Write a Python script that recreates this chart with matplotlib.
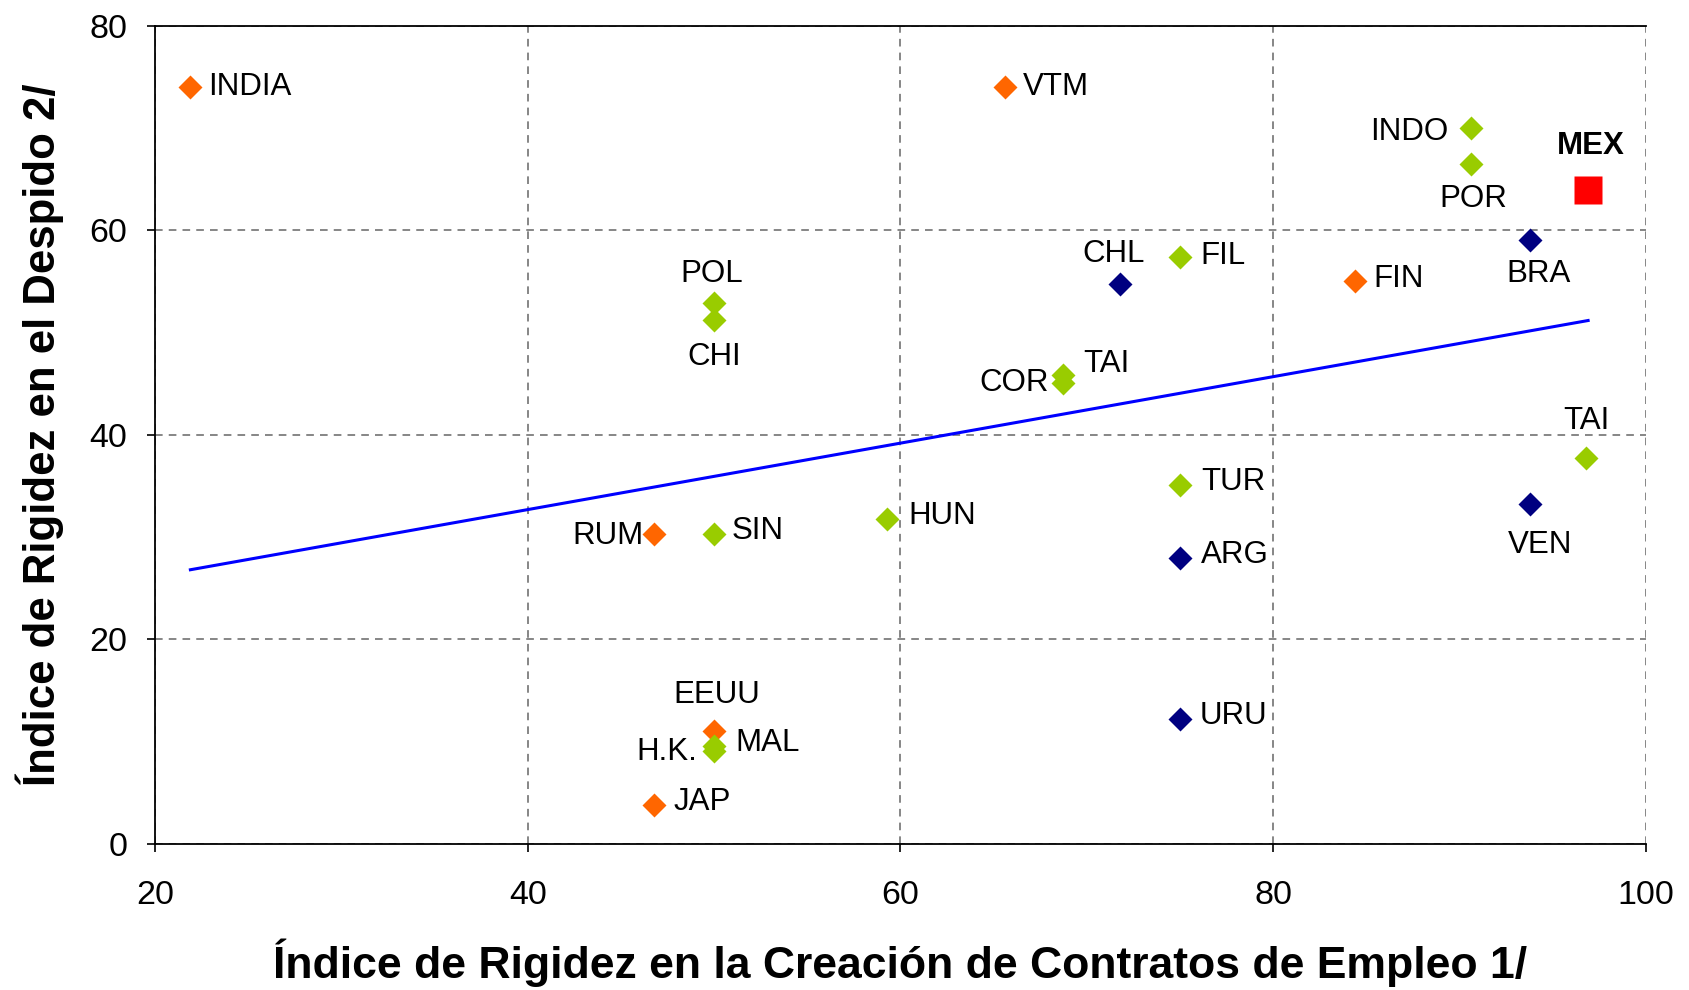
import numpy as np
import matplotlib.pyplot as plt

plt.rcParams['font.family'] = ['Liberation Sans', 'DejaVu Sans']

# countries: rigidity in hiring (x) vs rigidity in firing (y)
names  = ["INDIA", "VTM", "INDO", "POR", "BRA", "CHL", "FIL", "FIN", "POL", "CHI",
          "TAI", "COR", "TAI", "VEN", "TUR", "ARG", "URU", "HUN", "SIN", "RUM",
          "EEUU", "MAL", "H.K.", "JAP"]
x_hire = [21.9, 65.6, 90.6, 90.6, 93.8, 71.8, 75.0, 84.4, 50.0, 50.0,
          68.7, 68.7, 96.8, 93.8, 75.0, 75.0, 75.0, 59.3, 50.0, 46.8,
          50.0, 50.0, 50.0, 46.8]
y_fire = [74.0, 74.0, 70.0, 66.5, 59.1, 54.8, 57.4, 55.1, 52.9, 51.2,
          45.9, 45.1, 37.7, 33.2, 35.1, 28.0, 12.2, 31.8, 30.3, 30.3,
          11.0, 9.6, 9.1, 3.8]
group  = ["o", "o", "g", "g", "n", "n", "g", "o", "g", "g",
          "g", "g", "g", "n", "g", "n", "n", "g", "g", "o",
          "o", "g", "g", "o"]

mex_x, mex_y = 96.9, 64.0

# fitted trend line
trend_slope, trend_icpt = 0.325, 19.7

colors = {"o": "#FF6600", "g": "#99CC00", "n": "#000080"}

# label offsets in points (dx, dy, ha)
R, L = 13, -10
offsets = [(R, 0, "left"), (R, 0, "left"), (-16, -3, "right"), (2, -25, "center"),
           (6, -25, "center"), (-5, 21, "center"), (15, 1, "left"), (R, 1, "left"),
           (-2, 21, "center"), (0, -26, "center"), (15, 8, "left"), (L, 0, "right"),
           (0, 27, "center"), (7, -29, "center"), (15, 2, "left"), (15, 2, "left"),
           (14, 2, "left"), (15, 2, "left"), (13, 2, "left"), (-8, -1, "right"),
           (2, 26, "center"), (15, 2, "left"), (-12, -1, "right"), (14, 2, "left")]

fig = plt.figure(figsize=(16.9, 9.9), dpi=100)
ax = fig.add_axes([0.0917, 0.1475, 0.8822, 0.8263])

for xi, yi, g in zip(x_hire, y_fire, group):
    ax.plot(xi, yi, "D", color=colors[g], ms=12, mec="none", zorder=4)
ax.plot(mex_x, mex_y, "s", color="#FF0000", ms=20, mec="none", zorder=4)

xs = np.array([min(x_hire), max(x_hire + [mex_x])])
ax.plot(xs, trend_slope * xs + trend_icpt, color="#0000FF", lw=2.2, zorder=3)

for n, xi, yi, (dx, dy, ha) in zip(names, x_hire, y_fire, offsets):
    ax.annotate(n, (xi, yi), textcoords="offset points", xytext=(dx, dy),
                ha=ha, va="center", fontsize=22.5, zorder=5)
ax.annotate("MEX", (mex_x, mex_y), textcoords="offset points", xytext=(2, 31),
            ha="center", va="center", fontsize=22.5, fontweight="bold", zorder=5)

ax.set_xlim(20, 100)
ax.set_ylim(0, 80)
ax.set_xticks([20, 40, 60, 80, 100])
ax.set_yticks([0, 20, 40, 60, 80])
ax.tick_params(direction="out", length=6, width=1.2, labelsize=24.5)
ax.tick_params(axis="x", pad=20)
ax.tick_params(axis="y", pad=14)
ax.grid(True, color="#666666", ls=(0, (5, 4)), lw=1.1)
ax.set_axisbelow(True)
ax.spines["right"].set_visible(False)
for s in ["left", "bottom", "top"]:
    ax.spines[s].set_linewidth(1.3)

ax.set_xlabel("Índice de Rigidez en la Creación de Contratos de Empleo 1/",
              fontsize=32, fontweight="bold", labelpad=20)
ax.set_ylabel("Índice de Rigidez en el Despido 2/",
              fontsize=31.5, fontweight="bold", labelpad=18)

plt.savefig("out.png", dpi=100)
